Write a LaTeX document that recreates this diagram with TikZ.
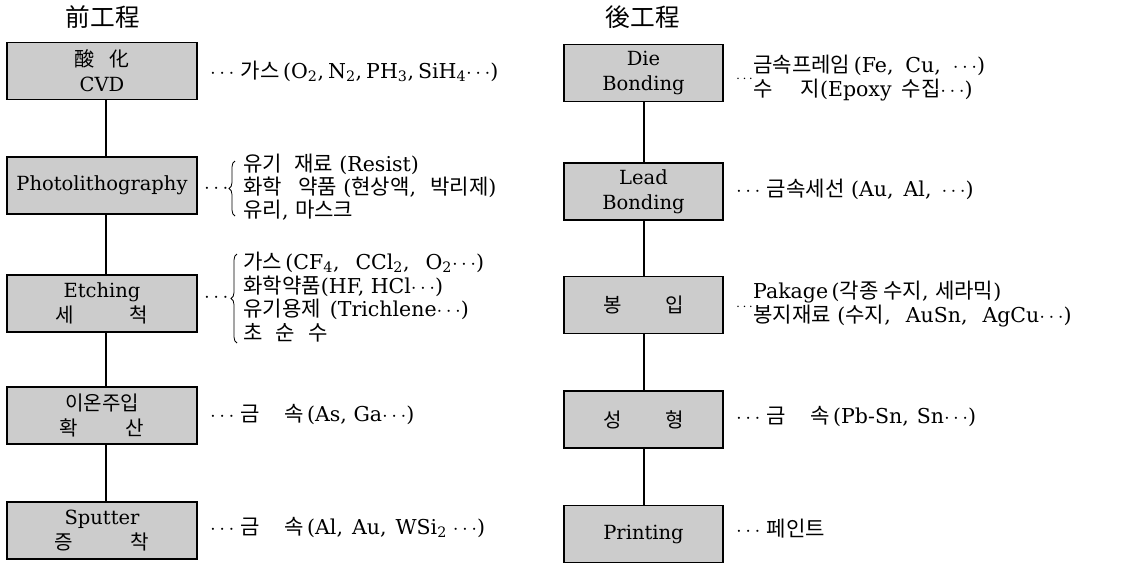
\documentclass[tikz,border=0pt]{standalone}
\usepackage{fontspec}
\setmainfont{DejaVu Serif}
\newfontfamily\kr[Scale=1.03]{Noto Sans CJK KR}
\usetikzlibrary{decorations.pathreplacing}
\newcommand\dts{$\cdots$}
\newcommand\sbs[1]{\textsubscript{#1}}
\begin{document}
\begin{tikzpicture}[x=1pt,y=-1pt,
  box/.style={draw=black, line width=1.7pt, fill=black!20, minimum height=57pt, align=center,
    inner sep=0pt, font=\fontsize{19.5}{25}\selectfont},
  lbox/.style={box, minimum width=190pt},
  rbox/.style={box, minimum width=159pt},
  title/.style={font=\kr\fontsize{24}{26}\selectfont},
  lbl/.style={anchor=west, inner sep=0pt, text height=14pt, text depth=4pt,
    font=\fontsize{20.5}{22}\selectfont},
  sdts/.style={anchor=west, inner sep=0pt, font=\fontsize{15}{16}\selectfont},
  conn/.style={line width=1.2pt},
  brc/.style={line width=0.8pt, decorate, decoration={brace, amplitude=6pt}}]
\useasboundingbox (0,0) rectangle (1148,566);

% titles
\node[title] (tl) at (103,17) {前工程};
\node[title] (tr) at (643,17) {後工程};

% left boxes
\node[lbox] (L1) at (102,71) {{\kr 酸\hspace{14pt}化}\\CVD};
\node[lbox] (L2) at (102,185.5) {Photolithography};
\node[lbox] (L3) at (102,303.5) {Etching\\{\kr 세\hspace{56pt}척}};
\node[lbox] (L4) at (102,415.5) {{\kr 이온주입}\\{\kr 확\hspace{48pt}산}};
\node[lbox] (L5) at (102,530.5) {Sputter\\{\kr 증\hspace{58pt}착}};

% right boxes
\node[rbox] (R1) at (643.5,73) {Die\\Bonding};
\node[rbox] (R2) at (643.5,191.5) {Lead\\Bonding};
\node[rbox] (R3) at (643.5,305) {{\kr 봉\hspace{44pt}입}};
\node[rbox] (R4) at (643.5,419.5) {{\kr 성\hspace{44pt}형}};
\node[rbox] (R5) at (643.5,534) {Printing};

% connectors
\coordinate (lx) at (106,0);
\coordinate (rx) at (644,0);
\draw[conn] (L1.south -| lx) -- (L2.north -| lx);
\draw[conn] (L2.south -| lx) -- (L3.north -| lx);
\draw[conn] (L3.south -| lx) -- (L4.north -| lx);
\draw[conn] (L4.south -| lx) -- (L5.north -| lx);
\draw[conn] (R1.south -| rx) -- (R2.north -| rx);
\draw[conn] (R2.south -| rx) -- (R3.north -| rx);
\draw[conn] (R3.south -| rx) -- (R4.north -| rx);
\draw[conn] (R4.south -| rx) -- (R5.north -| rx);

% left labels
\node[lbl] (a1) at (210,73) {\dts\ {\kr 가스}\,(O\sbs{2},\hspace{4pt}N\sbs{2},\hspace{4pt}PH\sbs{3},\hspace{4pt}SiH\sbs{4}\dts)};

\node[lbl] (a2d) at (204,188) {\dts};
\coordinate (b2t) at (235,161);
\coordinate (b2b) at (235,216);
\draw[brc] (b2b) -- (b2t);
\node[lbl] (a2a) at (243,166) {{\kr 유기\hspace{12pt}재료}\ (Resist)};
\node[lbl] (a2b) at (243,189) {{\kr 화학\hspace{16pt}약품}\ ({\kr 현상액},\hspace{14pt}{\kr 박리제})};
\node[lbl] (a2c) at (243,212) {{\kr 유리},\ {\kr 마스크}};

\node[lbl] (a3d) at (204,297) {\dts};
\coordinate (b3t) at (237,254);
\coordinate (b3b) at (237,343);
\draw[brc] (b3b) -- (b3t);
\node[lbl] (a3a) at (243,264) {{\kr 가스}\,(CF\sbs{4},\hspace{16pt}CCl\sbs{2},\hspace{16pt}O\sbs{2}\dts)};
\node[lbl] (a3b) at (243,288) {{\kr 화학약품}(HF,\ HCl\dts)};
\node[lbl] (a3c) at (243,311.5) {{\kr 유기용제}\hspace{9pt}(Trichlene\dts)};
\node[lbl] (a3e) at (243,335) {{\kr 초\hspace{13pt}순\hspace{13pt}수}};

\node[lbl] (a4) at (210,416) {\dts\ {\kr 금\hspace{24pt}속}\,(As,\ Ga\dts)};
\node[lbl] (a5) at (210,529) {\dts\ {\kr 금\hspace{24pt}속}\,(Al,\hspace{9pt}Au,\hspace{9pt}WSi\sbs{2}\hspace{6pt}\dts)};

% right labels
\node[sdts] (c1d) at (736,79) {\dts};
\node[lbl] (c1a) at (753,67) {{\kr 금속프레임}\,(Fe,\hspace{12pt}Cu,\hspace{12pt}\dts)};
\node[lbl] (c1b) at (753,91) {{\kr 수\hspace{28pt}지}(Epoxy\hspace{10pt}{\kr 수집}\dts)};
\node[lbl] (c2) at (736,191) {\dts\ {\kr 금속세선}\ (Au,\hspace{10pt}Al,\hspace{10pt}\dts)};
\node[sdts] (c3d) at (736,307) {\dts};
\node[lbl] (c3a) at (753,293) {Pakage\,({\kr 각종\ 수지},\ {\kr 세라믹})};
\node[lbl] (c3b) at (753,317) {{\kr 봉지재료}\ ({\kr 수지},\hspace{15pt}AuSn,\hspace{15pt}AgCu\dts)};
\node[lbl] (c4) at (736,418) {\dts\ {\kr 금\hspace{24pt}속}\,(Pb-Sn,\hspace{8pt}Sn\dts)};
\node[lbl] (c5) at (736,531) {\dts\ {\kr 페인트}};
\end{tikzpicture}
\end{document}
